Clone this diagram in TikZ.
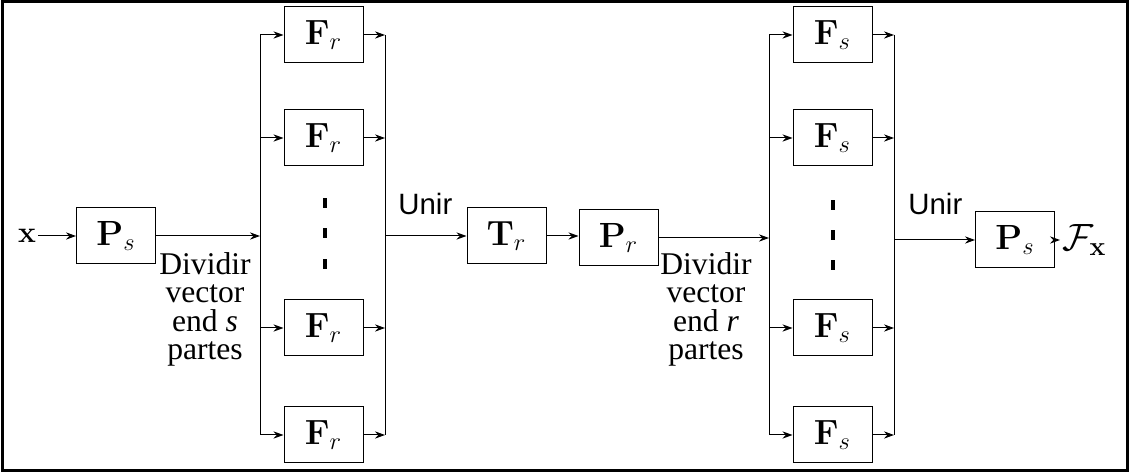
\RequirePackage{fix-cm}
\documentclass[tikz,border=0pt]{standalone}
\usepackage[no-math]{fontspec}
\setmainfont{Liberation Serif}
\newfontfamily\divfont{Liberation Serif}
\newfontfamily\unirfont{Liberation Sans}
\usetikzlibrary{arrows.meta}
\begin{document}
\begin{tikzpicture}[x=0.5pt,y=-0.5pt,
  blk/.style={draw, line width=0.5pt, minimum width=39.5pt, minimum height=28pt, inner sep=0pt, font=\fontsize{17.5}{20}\selectfont},
  ln/.style={line width=0.5pt},
  arr/.style={ln, -{Stealth[length=5pt,width=3.6pt]}},
  lbl/.style={font=\divfont\fontsize{15.8}{14.2}\selectfont, align=center, inner sep=0pt, anchor=north},
  un/.style={font=\unirfont\fontsize{14.7}{16}\selectfont, inner sep=0pt, anchor=base west},
  dotm/.style={fill=black, draw=none}]
\useasboundingbox (0,0) rectangle (1130,475);
\draw[line width=1.5pt] (2,2) rectangle (1127,471);

% input
\node[inner sep=1pt, font=\fontsize{15}{18}\selectfont] (x) at (27,236) {$\mathbf{x}$};
\node[blk] (ps1) at (116,236) {$\mathbf{P}_s$};
\draw[arr] (x) -- (ps1);

% first group
\coordinate (L1) at (260,236);
\coordinate (R1) at (385,236);
\node[blk] (fr1) at (323.5,35) {$\mathbf{F}_r$};
\node[blk] (fr2) at (323.5,138) {$\mathbf{F}_r$};
\node[blk] (fr3) at (323.5,328) {$\mathbf{F}_r$};
\node[blk] (fr4) at (323.5,435) {$\mathbf{F}_r$};
\draw[ln] (L1|-fr1) -- (L1|-fr4);
\draw[ln] (R1|-fr1) -- (R1|-fr4);
\foreach \n in {fr1,fr2,fr3,fr4}{
  \draw[arr] (L1|-\n) -- (\n.west);
  \draw[arr] (\n.east) -- (R1|-\n);
}
\draw[arr] (ps1.east) -- (L1);
\foreach \yy in {203,233.5,264}{
  \fill[dotm] (323,\yy-5) rectangle (327,\yy+5);
}
\node[lbl] (d1) at (205,252) {Dividir\\vector\\end \textit{s}\\partes};

% middle
\node[blk] (tr) at (506.5,236) {$\mathbf{T}_r$};
\node[blk] (pr) at (618.5,238) {$\mathbf{P}_r$};
\draw[arr] (R1) -- (tr.west);
\draw[arr] (tr.east) -- (tr.east-|pr.west);
\node[un] (u1) at (398,215) {Unir};

% second group
\coordinate (L2) at (769,238);
\coordinate (R2) at (894,240);
\node[blk] (fs1) at (832.5,35) {$\mathbf{F}_s$};
\node[blk] (fs2) at (832.5,138) {$\mathbf{F}_s$};
\node[blk] (fs3) at (832.5,328) {$\mathbf{F}_s$};
\node[blk] (fs4) at (832.5,435) {$\mathbf{F}_s$};
\draw[ln] (L2|-fs1) -- (L2|-fs4);
\draw[ln] (R2|-fs1) -- (R2|-fs4);
\foreach \n in {fs1,fs2,fs3,fs4}{
  \draw[arr] (L2|-\n) -- (\n.west);
  \draw[arr] (\n.east) -- (R2|-\n);
}
\draw[arr] (pr.east) -- (L2);
\foreach \yy in {205,235,265}{
  \fill[dotm] (831,\yy-5) rectangle (835,\yy+5);
}
\node[lbl] (d2) at (706,252) {Dividir\\vector\\end \textit{r}\\partes};

% output
\node[blk] (ps2) at (1015,240) {$\mathbf{P}_s$};
\draw[arr] (R2) -- (ps2.west);
\node[un] (u2) at (908,215) {Unir};
\node[inner sep=1pt, anchor=west, font=\fontsize{19}{22}\selectfont] (fx) at (1060,240) {$\mathcal{F}_{\mathbf{x}}$};
\draw[arr] (ps2.east) -- (fx.west);
\end{tikzpicture}
\end{document}
